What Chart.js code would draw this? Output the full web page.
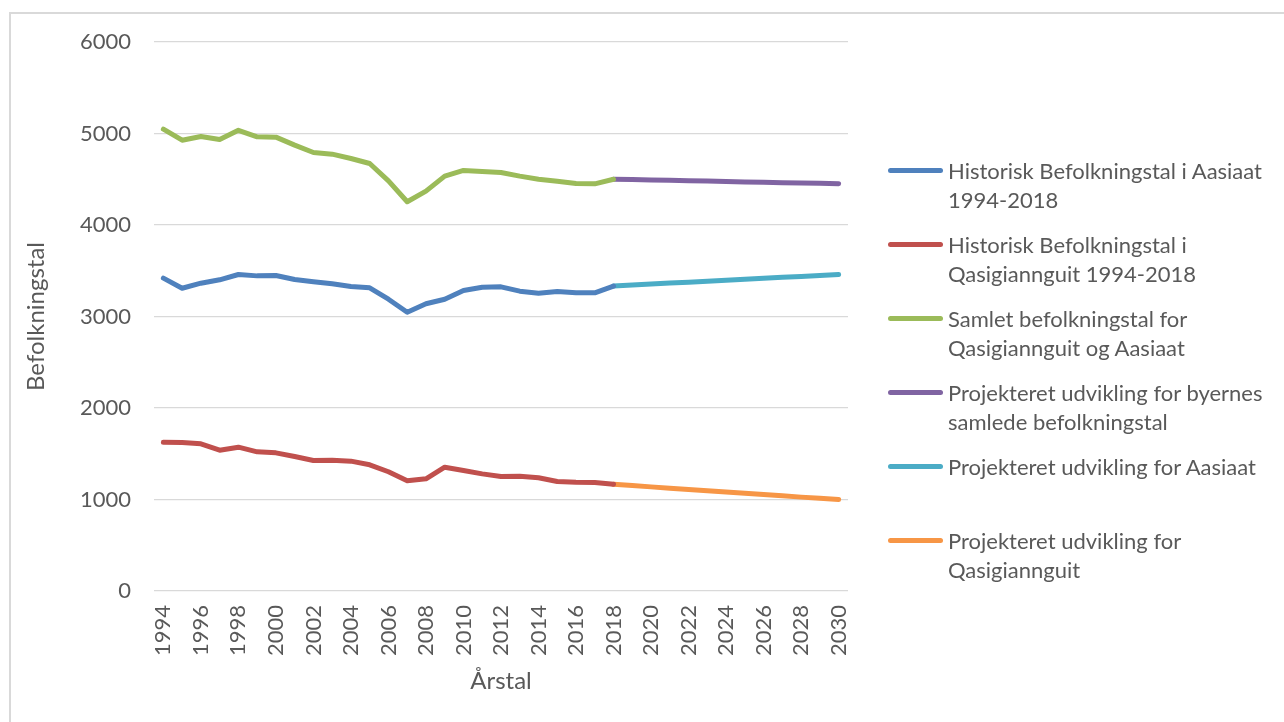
<!DOCTYPE html>
<html>
<head>
<meta charset="utf-8">
<script src="https://cdn.jsdelivr.net/npm/chart.js@4/dist/chart.umd.min.js"></script>
<style>
  html, body { margin: 0; padding: 0; background: #fff; }
  #wrap { position: relative; width: 1284px; height: 722px; overflow: hidden; font-family: Lato, "Open Sans", sans-serif; }
  #frame { position: absolute; left: 9px; top: 12px; width: 1400px; height: 800px; border-left: 2px solid #d9d9d9; border-top: 2px solid #d9d9d9; }
  #c { position: absolute; left: 0; top: 0; }
  #legend { position: absolute; left: 888px; top: 0; color: #595959; font-size: 22px; }
  .item { position: absolute; left: 0; width: 390px; }
  .swatch { position: absolute; left: 0; width: 55px; height: 5px; border-radius: 3px; }
  .txt { position: absolute; left: 60px; line-height: 29px; white-space: nowrap; }
</style>
</head>
<body>
<div id="wrap">
  <div id="frame"></div>
  <canvas id="c" width="1284" height="722"></canvas>
  <div id="legend"></div>
</div>
<script>
// Årstal 1994-2030
const years = [];
for (let y = 1994; y <= 2030; y++) years.push(String(y));

// Historisk 1994-2018
const aasiaat = [3419, 3309, 3364, 3401, 3459, 3444, 3448, 3404, 3379, 3357, 3328, 3313, 3189, 3047, 3139, 3189, 3284, 3320, 3324, 3277, 3255, 3273, 3259, 3259, 3333];
const qasigiannguit = [1626, 1622, 1608, 1539, 1572, 1521, 1510, 1470, 1426, 1430, 1419, 1379, 1303, 1204, 1226, 1353, 1317, 1280, 1251, 1255, 1237, 1197, 1189, 1186, 1166];
const samlet = [5047, 4927, 4968, 4934, 5035, 4964, 4960, 4873, 4792, 4774, 4727, 4672, 4483, 4254, 4370, 4534, 4596, 4585, 4574, 4534, 4501, 4479, 4454, 4450, 4500];

// Projekteret 2018-2030
const projSamlet = [4500, 4496, 4492, 4488, 4484, 4480, 4476, 4471, 4467, 4463, 4459, 4455, 4452];
const projAasiaat = [3333, 3344, 3354, 3365, 3375, 3386, 3396, 3407, 3417, 3428, 3438, 3449, 3460];
const projQasigiannguit = [1166, 1152, 1138, 1124, 1110, 1096, 1082, 1068, 1054, 1040, 1026, 1013, 1000];

const yTicks = [0, 1000, 2000, 3000, 4000, 5000, 6000];

const labels = [
  ['Historisk Befolkningstal i Aasiaat', '1994-2018'],
  ['Historisk Befolkningstal i', 'Qasigiannguit 1994-2018'],
  ['Samlet befolkningstal for', 'Qasigiannguit og Aasiaat'],
  ['Projekteret udvikling for byernes', 'samlede befolkningstal'],
  ['Projekteret udvikling for Aasiaat'],
  ['Projekteret udvikling for', 'Qasigiannguit']
];
const colors = ['#4F81BD', '#C0504D', '#9BBB59', '#8064A2', '#4BACC6', '#F79646'];

// historik fylder de første år, projektion starter i 2018
const hist = arr => years.map((_, i) => i < arr.length ? arr[i] : null);
const proj = arr => years.map((_, i) => i >= years.length - arr.length ? arr[i - (years.length - arr.length)] : null);

const series = [hist(aasiaat), hist(qasigiannguit), hist(samlet), proj(projSamlet), proj(projAasiaat), proj(projQasigiannguit)];

const fam = 'Lato, "Open Sans", sans-serif';
const gray = '#595959';

new Chart(document.getElementById('c'), {
  type: 'line',
  data: {
    labels: years,
    datasets: series.map((d, i) => ({
      label: labels[i].join(' '),
      data: d,
      borderColor: colors[i],
      borderWidth: 5,
      borderCapStyle: 'round',
      borderJoinStyle: 'round',
      pointRadius: 0,
      tension: 0,
      spanGaps: false
    }))
  },
  options: {
    responsive: false,
    animation: false,
    layout: { padding: { left: 22, right: 436, top: 42, bottom: 22 } },
    plugins: { legend: { display: false }, tooltip: { enabled: false } },
    scales: {
      x: {
        offset: true,
        grid: { display: false, drawTicks: false },
        border: { display: false },
        ticks: {
          color: gray, font: { family: fam, size: 22 }, autoSkip: false, maxRotation: 90, minRotation: 90, padding: 14,
          callback: (v, i) => i % 2 === 0 ? years[i] : ''
        },
        title: { display: true, text: 'Årstal', color: gray, font: { family: fam, size: 24 }, padding: { top: 2, bottom: 4 } },
        afterFit: s => { s.height = 109; }
      },
      y: {
        min: 0, max: 6000,
        afterBuildTicks: s => { s.ticks = yTicks.map(v => ({ value: v })); },
        grid: { color: '#d9d9d9', lineWidth: 1.3, drawTicks: false },
        border: { display: false },
        ticks: { color: gray, font: { family: fam, size: 22 }, padding: 23, callback: v => String(v) },
        title: { display: true, text: 'Befolkningstal', color: gray, font: { family: fam, size: 24 }, padding: { top: 0, bottom: 0 } },
        afterFit: s => { s.width = 132; }
      }
    }
  }
});

// legende med to-linjers tekst
const legend = document.getElementById('legend');
const rows = [171, 245, 319, 393, 467, 541];
labels.forEach((l, i) => {
  const item = document.createElement('div');
  item.className = 'item';
  item.style.top = rows[i] + 'px';
  item.innerHTML = `<div class="swatch" style="background:${colors[i]};top:-3px"></div>` +
    `<div class="txt" style="top:-15px">${l.join('<br>')}</div>`;
  legend.appendChild(item);
});
</script>
</body>
</html>
